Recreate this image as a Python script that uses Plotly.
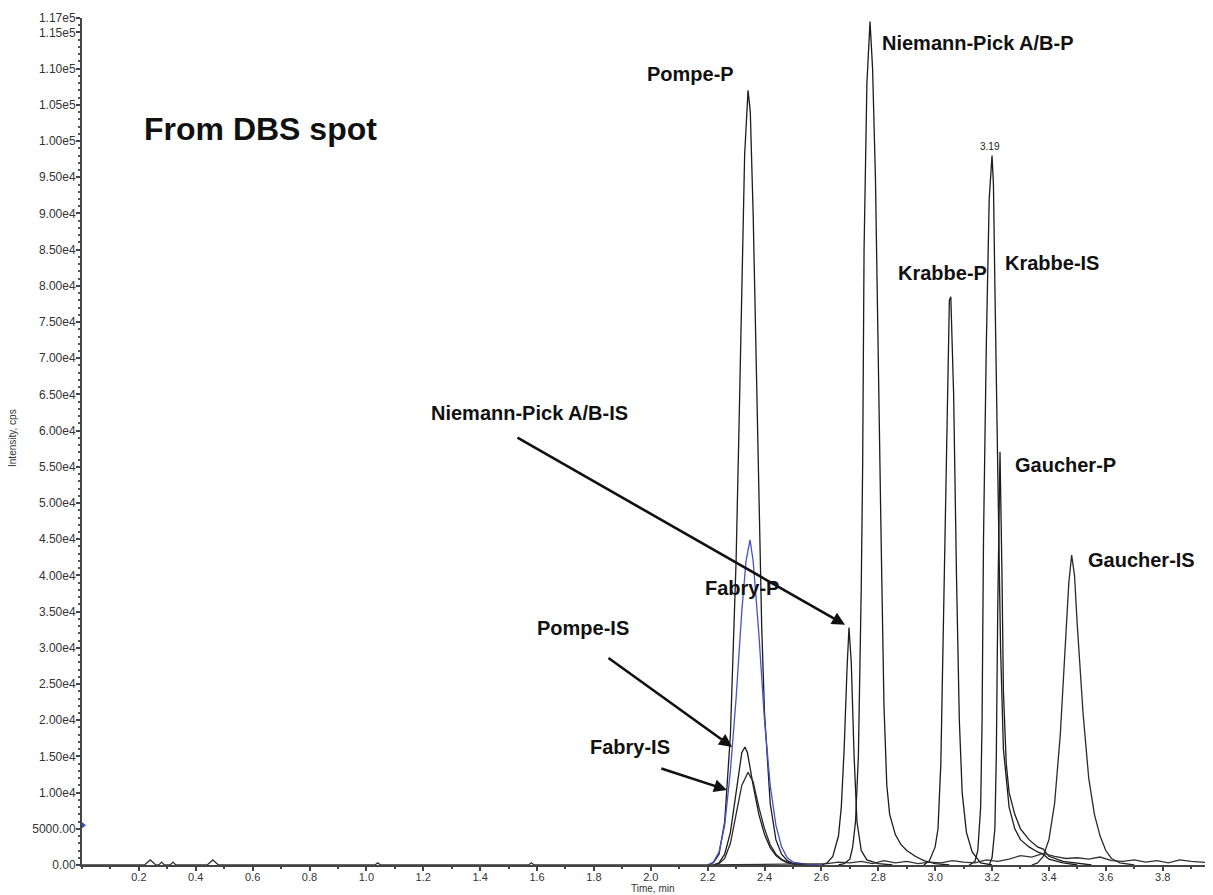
import plotly.graph_objects as go

# ---------------- data ----------------
pompe_p_t = [2.20, 2.22, 2.24, 2.26, 2.28, 2.30, 2.31, 2.32, 2.33, 2.342, 2.35, 2.36, 2.37, 2.38, 2.39, 2.40, 2.42, 2.44, 2.46, 2.48, 2.50, 2.55]
pompe_p_y = [0, 300, 1500, 6000, 18000, 42000, 60000, 80000, 98000, 107000, 104000, 90000, 70000, 50000, 33000, 21000, 8500, 3500, 1500, 600, 200, 0]

fabry_p_t = [2.20, 2.22, 2.24, 2.26, 2.28, 2.30, 2.32, 2.335, 2.349, 2.36, 2.38, 2.40, 2.42, 2.44, 2.46, 2.48, 2.50, 2.55, 2.60]
fabry_p_y = [0, 400, 1800, 5500, 13000, 23000, 35000, 42000, 44900, 42000, 32000, 20000, 11000, 5500, 2500, 1000, 400, 100, 0]

pompe_is_t = [2.22, 2.24, 2.26, 2.28, 2.30, 2.32, 2.331, 2.34, 2.36, 2.38, 2.40, 2.42, 2.44, 2.46, 2.48, 2.52]
pompe_is_y = [0, 300, 1500, 4500, 10000, 15500, 16300, 15500, 11000, 7000, 4200, 2400, 1300, 700, 300, 0]

fabry_is_t = [2.22, 2.24, 2.26, 2.28, 2.30, 2.32, 2.342, 2.36, 2.38, 2.40, 2.42, 2.44, 2.46, 2.48, 2.52]
fabry_is_y = [0, 200, 900, 3000, 7000, 11000, 12800, 11500, 8000, 5000, 2800, 1500, 800, 400, 0]

np_is_t = [2.60, 2.62, 2.64, 2.66, 2.67, 2.68, 2.69, 2.697, 2.705, 2.715, 2.725, 2.74, 2.76, 2.80, 2.85]
np_is_y = [0, 300, 1200, 4000, 8000, 16000, 27000, 32800, 28000, 15000, 6000, 2000, 700, 200, 0]

np_p_t = [2.66, 2.68, 2.70, 2.71, 2.72, 2.73, 2.74, 2.745, 2.75, 2.76, 2.771, 2.78, 2.79, 2.80, 2.81, 2.82, 2.83, 2.84, 2.86, 2.88, 2.90, 2.93, 2.96, 3.00, 3.05]
np_p_y = [0, 200, 800, 2500, 6000, 15000, 38000, 55000, 85000, 108000, 116500, 110000, 95000, 68000, 45000, 22000, 11000, 7000, 4200, 2800, 2000, 1200, 600, 200, 0]

krabbe_p_t = [2.96, 2.98, 3.00, 3.01, 3.02, 3.03, 3.04, 3.05, 3.055, 3.065, 3.075, 3.085, 3.095, 3.11, 3.13, 3.16, 3.20]
krabbe_p_y = [0, 600, 2500, 5000, 14000, 35000, 60000, 78000, 78500, 65000, 40000, 20000, 10000, 4500, 1800, 300, 0]

krabbe_is_t = [3.12, 3.14, 3.15, 3.16, 3.165, 3.17, 3.18, 3.19, 3.20, 3.205, 3.21, 3.22, 3.23, 3.24, 3.26, 3.28, 3.30, 3.33, 3.36, 3.38, 3.40, 3.45, 3.50]
krabbe_is_y = [0, 500, 2000, 8000, 20000, 45000, 72000, 92000, 98000, 94000, 80000, 55000, 30000, 16000, 8000, 5000, 3500, 2500, 1800, 1500, 800, 300, 0]

gaucher_p_t = [3.19, 3.20, 3.21, 3.215, 3.22, 3.228, 3.235, 3.24, 3.25, 3.26, 3.28, 3.30, 3.33, 3.36, 3.38, 3.40, 3.45, 3.50, 3.55]
gaucher_p_y = [0, 1000, 5000, 15000, 35000, 57100, 40000, 24000, 14000, 10000, 7000, 5000, 3500, 2500, 2200, 1200, 500, 200, 0]

gaucher_is_t = [3.34, 3.36, 3.38, 3.40, 3.42, 3.44, 3.46, 3.47, 3.48, 3.49, 3.50, 3.52, 3.54, 3.56, 3.58, 3.60, 3.62, 3.65, 3.70]
gaucher_is_y = [0, 300, 1200, 3500, 8500, 18000, 32000, 39000, 42800, 40000, 33000, 21000, 12000, 7000, 4000, 2000, 900, 300, 0]

baseline_t = [0.00, 0.22, 0.24, 0.26, 0.27, 0.28, 0.29, 0.31, 0.32, 0.33, 0.44, 0.46, 0.48, 1.03, 1.04, 1.05,
              1.57, 1.58, 1.59, 2.20, 2.62, 2.66, 2.70, 2.74, 2.78, 2.82, 2.86, 2.90, 2.94, 2.98, 3.02, 3.06,
              3.10, 3.14, 3.18, 3.22, 3.26, 3.30, 3.34, 3.38, 3.42, 3.46, 3.50, 3.54, 3.58, 3.62, 3.66, 3.70,
              3.74, 3.78, 3.82, 3.86, 3.90, 3.94, 3.977]
baseline_y = [0, 0, 700, 0, 0, 400, 0, 0, 400, 0, 0, 700, 0, 0, 300, 0,
              0, 300, 0, 0, 200, 400, 300, 500, 200, 600, 300, 500, 200, 400, 300, 600,
              400, 300, 700, 500, 800, 1300, 1100, 1600, 1200, 900, 1000, 800, 1100, 600, 500, 700,
              400, 600, 300, 700, 500, 400, 300]

traces = [
    ("Pompe-P", pompe_p_t, pompe_p_y, "#1c1c1c"),
    ("Pompe-IS", pompe_is_t, pompe_is_y, "#1c1c1c"),
    ("Fabry-IS", fabry_is_t, fabry_is_y, "#2a2a2a"),
    ("Fabry-P", fabry_p_t, fabry_p_y, "#4652c8"),
    ("Niemann-Pick A/B-IS", np_is_t, np_is_y, "#1c1c1c"),
    ("Niemann-Pick A/B-P", np_p_t, np_p_y, "#1c1c1c"),
    ("Krabbe-P", krabbe_p_t, krabbe_p_y, "#1c1c1c"),
    ("Krabbe-IS", krabbe_is_t, krabbe_is_y, "#1c1c1c"),
    ("Gaucher-P", gaucher_p_t, gaucher_p_y, "#1c1c1c"),
    ("Gaucher-IS", gaucher_is_t, gaucher_is_y, "#2a2a2a"),
    ("baseline", baseline_t, baseline_y, "#333333"),
]

x_tick_vals = [0.2, 0.4, 0.6, 0.8, 1.0, 1.2, 1.4, 1.6, 1.8, 2.0, 2.2, 2.4, 2.6, 2.8, 3.0, 3.2, 3.4, 3.6, 3.8]
x_tick_text = ["0.2", "0.4", "0.6", "0.8", "1.0", "1.2", "1.4", "1.6", "1.8", "2.0", "2.2", "2.4", "2.6", "2.8", "3.0", "3.2", "3.4", "3.6", "3.8"]

y_tick_vals = [0, 5000, 10000, 15000, 20000, 25000, 30000, 35000, 40000, 45000, 50000, 55000, 60000, 65000,
               70000, 75000, 80000, 85000, 90000, 95000, 100000, 105000, 110000, 115000, 117000]
y_tick_text = ["0.00", "5000.00", "1.00e4", "1.50e4", "2.00e4", "2.50e4", "3.00e4", "3.50e4", "4.00e4", "4.50e4",
               "5.00e4", "5.50e4", "6.00e4", "6.50e4", "7.00e4", "7.50e4", "8.00e4", "8.50e4", "9.00e4", "9.50e4",
               "1.00e5", "1.05e5", "1.10e5", "1.15e5", "1.17e5"]

peak_labels = ["Pompe-P", "Niemann-Pick A/B-P", "Krabbe-P", "Krabbe-IS", "Gaucher-P", "Gaucher-IS",
               "Fabry-P", "Pompe-IS", "Fabry-IS", "Niemann-Pick A/B-IS"]

FONT = "Arial, 'Liberation Sans', sans-serif"

fig = go.Figure()
for name, t, y, col in traces:
    fig.add_trace(go.Scatter(x=t, y=y, mode="lines", name=name,
                             line=dict(color=col, width=1.3), hoverinfo="skip"))

# small blue threshold marker at the y axis
fig.add_trace(go.Scatter(x=[0], y=[5500], mode="markers", cliponaxis=False,
                         marker=dict(symbol="triangle-right", size=8, color="#2f4fc0"),
                         hoverinfo="skip"))

ann = []
lab_font = dict(family=FONT, size=20, color="#111111")
ann.append(dict(x=0.629, y=101600, text="<b>From DBS spot</b>", showarrow=False,
                font=dict(family=FONT, size=32, color="#111111")))
label_pos = [
    (peak_labels[0], 2.138, 109200, "center"),
    (peak_labels[1], 2.806, 113600, "left"),
    (peak_labels[2], 3.027, 81800, "center"),
    (peak_labels[3], 3.411, 83200, "center"),
    (peak_labels[4], 3.460, 55300, "center"),
    (peak_labels[5], 3.724, 42200, "center"),
    (peak_labels[6], 2.321, 38300, "center"),
    (peak_labels[7], 1.762, 32800, "center"),
    (peak_labels[8], 1.927, 16300, "center"),
    (peak_labels[9], 1.575, 62500, "center"),
]
for txt, x, y, xa in label_pos:
    ann.append(dict(x=x, y=y, text="<b>" + txt + "</b>", showarrow=False, xanchor=xa, font=lab_font))
ann.append(dict(x=3.193, y=99200, text="3.19", showarrow=False,
                font=dict(family=FONT, size=10, color="#222222")))
for hx, hy, tx, ty in [(2.683, 33170, 1.526, 59150),
                       (2.286, 16310, 1.846, 28750),
                       (2.268, 10370, 2.032, 13400)]:
    ann.append(dict(x=hx, y=hy, ax=tx, ay=ty, xref="x", yref="y", axref="x", ayref="y",
                    text="", showarrow=True, arrowhead=2, arrowsize=1, arrowwidth=2.6,
                    arrowcolor="#111111"))
ann.append(dict(xref="paper", yref="paper", x=0.505, y=-0.0275, xanchor="center", yanchor="middle",
                text="Time, min", showarrow=False,
                font=dict(family=FONT, size=10, color="#333333")))
ann.append(dict(xref="paper", yref="paper", x=-0.062, y=0.504, xanchor="center", yanchor="middle",
                text="Intensity, cps", showarrow=False,
                textangle=-90, font=dict(family=FONT, size=10, color="#333333")))

fig.update_layout(
    width=1205, height=887,
    margin=dict(l=74, r=0, t=10, b=30, autoexpand=False),
    paper_bgcolor="white", plot_bgcolor="white",
    showlegend=False,
    annotations=ann,
    font=dict(family=FONT),
    xaxis=dict(range=[0, 3.977], tickvals=x_tick_vals, ticktext=x_tick_text, automargin=False,
               showgrid=False, zeroline=False, showline=True, linecolor="#444444", linewidth=2,
               ticks="outside", ticklen=4, tickwidth=1.5, tickcolor="#444444", ticklabelstandoff=-3,
               minor=dict(ticks="outside", ticklen=2, tickcolor="#444444", dtick=0.1, tick0=0),
               tickfont=dict(family=FONT, size=11, color="#333333")),
    yaxis=dict(range=[0, 117000], tickvals=y_tick_vals, ticktext=y_tick_text, automargin=False,
               showgrid=False, zeroline=False, showline=True, linecolor="#444444", linewidth=2,
               ticks="outside", ticklen=4, tickwidth=1.5, tickcolor="#444444", ticklabelstandoff=-2,
               minor=dict(ticks="outside", ticklen=2, tickcolor="#555555", dtick=1000, tick0=0),
               tickfont=dict(family=FONT, size=12, color="#333333")),
)

fig.write_html("out.html")
